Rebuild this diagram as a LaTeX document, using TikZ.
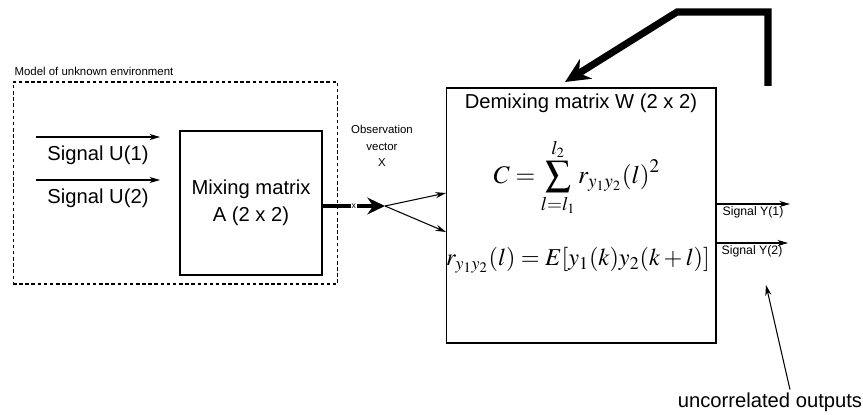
\documentclass[tikz,border=0pt]{standalone}
\usepackage{mathptmx}
\usepackage[no-math]{fontspec}
\setmainfont{Liberation Sans}
\usetikzlibrary{arrows.meta,positioning}

\begin{document}
\begin{tikzpicture}[
        x=0.02cm, y=-0.02cm,
        >=Stealth,
        box/.style={draw, line width=0.6pt, align=center, font=\fontsize{11.5}{15.3}\selectfont},
        envbox/.style={draw, line width=0.6pt, dash pattern=on 2pt off 1.5pt},
        txt/.style={font=\fontsize{11.5}{14}\selectfont, inner sep=1.5pt},
        smalltext/.style={font=\fontsize{6.5}{9.5}\selectfont, align=center, inner sep=1pt},
        outlbl/.style={font=\fontsize{7}{8}\selectfont, inner sep=1pt},
        mathtxt/.style={font=\fontsize{14.4}{17}\selectfont, inner sep=0pt},
        sig/.style={line width=0.6pt, -{Stealth[length=6pt,width=3.5pt]}},
        obs/.style={line width=2.8pt, -{Stealth[length=10pt,width=9.5pt]}},
        fb/.style={line width=4pt, -{Stealth[length=14pt,width=13pt]}}
    ]
    \useasboundingbox[fill=white] (0,0) rectangle (863,415);

    % unknown environment
    \node[envbox, minimum width=6.5cm, minimum height=4.04cm] (env) at (175.5,183) {};
    \node[smalltext, anchor=south west, yshift=2pt] (envlbl) at (env.north west) {Model of unknown environment};
    \node[box, minimum width=2.84cm, minimum height=2.88cm] (mix) at (251,203) {Mixing matrix\\A (2 x 2)};

    \coordinate (u1a) at (36,137);
    \coordinate (u1b) at (160,137);
    \coordinate (u2a) at (36,180);
    \coordinate (u2b) at (160,180);
    \draw[sig] (u1a) -- node[txt, below=3pt] {Signal U(1)} (u1b);
    \draw[sig] (u2a) -- node[txt, below=3pt] {Signal U(2)} (u2b);

    % observation
    \node[smalltext] (obslbl) at (382,146) {Observation\\vector\\X};
    \coordinate (split) at (385,206);
    \draw[obs] (mix.east |- split) -- node[fill=white, inner sep=0.5pt, font=\fontsize{5}{6}\selectfont] {x} (split);

    % demixing
    \node[box, minimum width=5.4cm, minimum height=5.1cm] (demix) at (581,215.5) {};
    \node[txt, below=2pt of demix.north] (title) {Demixing matrix W (2 x 2)};
    \node[mathtxt] (cost) at (577,177) {$\displaystyle C = \sum_{l=l_1}^{l_2\rule[-2.5pt]{0pt}{2.5pt}} r_{y_1y_2}(l)^2$};
    \node[mathtxt, font=\fontsize{13.8}{16}\selectfont] (corr) at (578,260) {$r_{y_1y_2}(l) = E[y_1(k)y_2(k+l)]$};

    \coordinate (w1) at (446,193);
    \coordinate (w2) at (446,232);
    \draw[sig] (split) -- (w1);
    \draw[sig] (split) -- (w2);

    % outputs
    \coordinate (y1a) at (716,204);
    \coordinate (y1b) at (790,204);
    \coordinate (y2a) at (716,243);
    \coordinate (y2b) at (788,243);
    \draw[sig] (y1a) -- node[outlbl, below=0pt] {Signal Y(1)} (y1b);
    \draw[sig] (y2a) -- node[outlbl, below=0pt] {Signal Y(2)} (y2b);

    \node[txt] (unc) at (770,402) {uncorrelated outputs};
    \coordinate (unctip) at (766,285);
    \draw[sig] ([xshift=0.4cm]unc.north) -- (unctip);

    % feedback
    \coordinate (fbtail) at (768,86);
    \coordinate (fbtip) at (565,82);
    \draw[fb] (fbtail) -- (768,12) -- (677,12) -- (fbtip);
\end{tikzpicture}
\end{document}
